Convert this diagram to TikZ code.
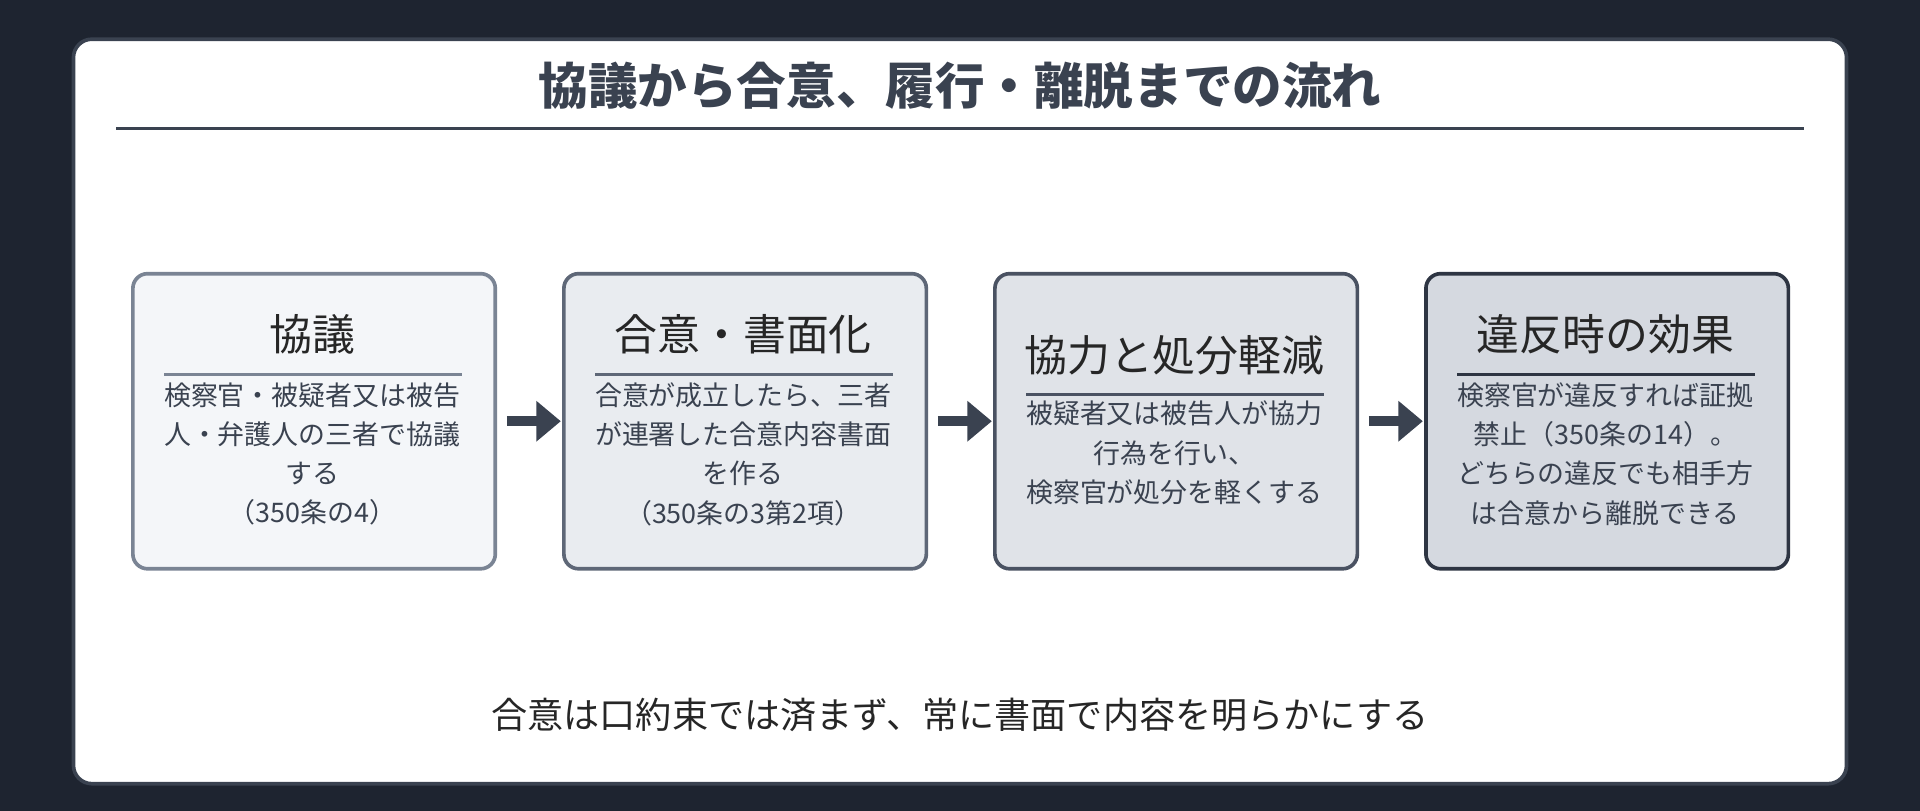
\documentclass[tikz,border=0pt]{standalone}
\usepackage{fontspec}
\setmainfont{Noto Sans CJK JP}
\usetikzlibrary{arrows.meta}
\definecolor{bg}{HTML}{1E2430}
\definecolor{ink}{HTML}{3A4250}
\definecolor{fa}{HTML}{F4F6F9}\definecolor{fb}{HTML}{E9ECF0}\definecolor{fc}{HTML}{E0E3E8}\definecolor{fd}{HTML}{D5D9E0}
\definecolor{ba}{HTML}{7A8494}\definecolor{bb}{HTML}{5E6777}\definecolor{bc}{HTML}{4A5262}\definecolor{bd}{HTML}{2E3543}
\begin{document}
\begin{tikzpicture}[x=1pt,y=-1pt,
 box/.style={draw,line width=3pt,rounded corners=12pt,minimum width=296pt,minimum height=241pt,anchor=north west},
 btitle/.style={font=\fontsize{35}{40}\selectfont,text=black!85},
 body/.style={font=\fontsize{22}{32}\selectfont,align=center,text=ink},
 arr/.style={draw=ink,line width=8pt,-{Triangle[length=20pt,width=32pt]}}]
\fill[bg] (0,0) rectangle (1568,662);
\useasboundingbox (0,0) rectangle (1568,662);
\draw[draw=ink,fill=white,line width=3pt,rounded corners=15pt] (60,32) rectangle (1508,640);
\node[font=\fontsize{40.5}{44}\selectfont\bfseries,text=ink] (title) at (784,70) {協議から合意、履行・離脱までの流れ};
\draw[ink,line width=2pt] (95,105) -- (1473,105);
\node[box,fill=fa,draw=ba] (b1) at (107,222) {};
\node[box,fill=fb,draw=bb] (b2) at (459,222) {};
\node[box,fill=fc,draw=bc] (b3) at (811,222) {};
\node[box,fill=fd,draw=bd] (b4) at (1163,222) {};
\node[btitle] (t1) at (255,273) {協議};
\node[btitle] (t2) at (607,273) {合意・書面化};
\node[btitle] (t3) at (959,290) {協力と処分軽減};
\node[btitle] (t4) at (1311,273) {違反時の効果};
\draw[ba,line width=2pt] (134,306) -- (377,306);
\draw[bb,line width=2pt] (486,306) -- (729,306);
\draw[bc,line width=2pt] (838,322) -- (1081,322);
\draw[bd,line width=2pt] (1190,306) -- (1433,306);
\node[body,anchor=north] (x1) at (255,309) {検察官・被疑者又は被告\\人・弁護人の三者で協議\\する\\（350条の4）};
\node[body,anchor=north] (x2) at (607,309) {合意が成立したら、三者\\が連署した合意内容書面\\を作る\\（350条の3第2項）};
\node[body,anchor=north] (x3) at (959,324) {被疑者又は被告人が協力\\行為を行い、\\検察官が処分を軽くする};
\node[body,anchor=north] (x4) at (1311,309) {検察官が違反すれば証拠\\禁止（350条の14）。\\どちらの違反でも相手方\\は合意から離脱できる};
\draw[arr] ([xshift=8pt]b1.east) -- ([xshift=-1pt]b2.west);
\draw[arr] ([xshift=8pt]b2.east) -- ([xshift=-1pt]b3.west);
\draw[arr] ([xshift=8pt]b3.east) -- ([xshift=-1pt]b4.west);
\node[font=\fontsize{29.5}{34}\selectfont,text=black!85] (foot) at (784,584) {合意は口約束では済まず、常に書面で内容を明らかにする};
\end{tikzpicture}
\end{document}
